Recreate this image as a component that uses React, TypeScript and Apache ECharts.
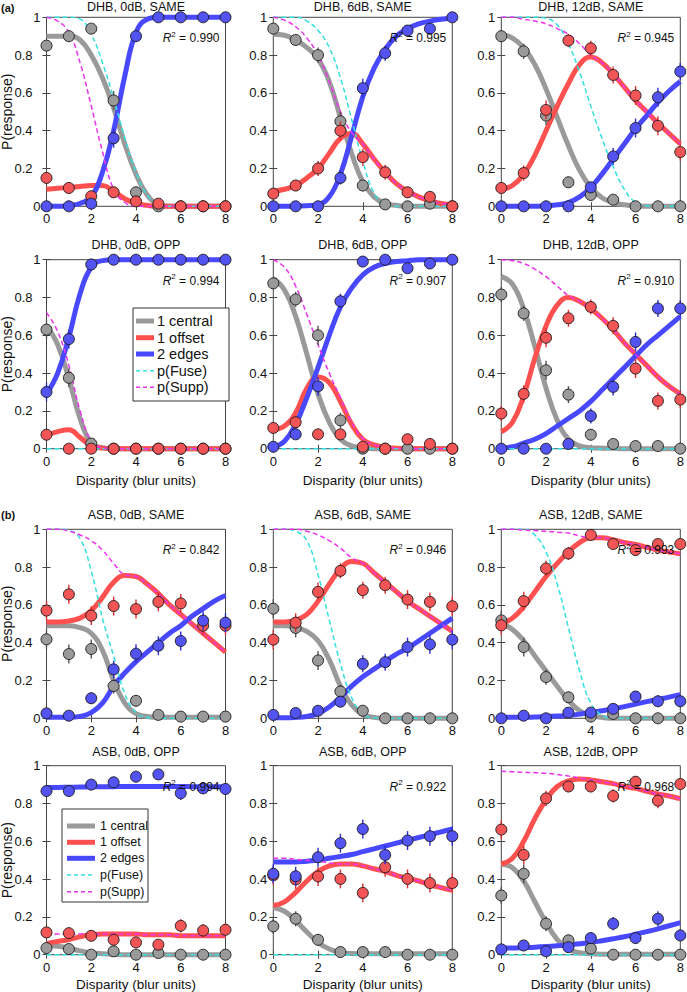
import React, { useEffect, useRef } from 'react';
import * as echarts from 'echarts';

const XS = [0, 1, 2, 3, 4, 5, 6, 7, 8];
const XF = [0, 0.5, 1, 1.5, 2, 2.5, 3, 3.5, 4, 4.5, 5, 5.5, 6, 6.5, 7, 7.5, 8];
const yTicks = ['0', '0.2', '0.4', '0.6', '0.8', '1'];
const xTicks = ['0', '2', '4', '6', '8'];

const titles = ['DHB, 0dB, SAME', 'DHB, 6dB, SAME', 'DHB, 12dB, SAME', 'DHB, 0dB, OPP', 'DHB, 6dB, OPP', 'DHB, 12dB, OPP',
  'ASB, 0dB, SAME', 'ASB, 6dB, SAME', 'ASB, 12dB, SAME', 'ASB, 0dB, OPP', 'ASB, 6dB, OPP', 'ASB, 12dB, OPP'];
const r2 = ['0.990', '0.995', '0.945', '0.994', '0.907', '0.910', '0.842', '0.946', '0.993', '0.994', '0.922', '0.968'];
const legendNames = ['1 central', '1 offset', '2 edges', 'p(Fuse)', 'p(Supp)'];

const ptsCentral = [
  [0.85, 0.90, 0.94, 0.56, 0.074, 0, 0, 0, 0],
  [0.94, 0.88, 0.80, 0.45, 0.11, 0.01, 0, 0.014, 0],
  [0.90, 0.82, 0.48, 0.127, 0.06, 0.035, 0, 0, 0],
  [0.63, 0.375, 0.027, 0, 0, 0, 0, 0, 0],
  [0.875, 0.79, 0.60, 0.15, 0, 0, 0, 0, 0],
  [0.816, 0.716, 0.415, 0.286, 0.074, 0.025, 0.014, 0.014, 0],
  [0.418, 0.34, 0.367, 0.171, 0.093, 0.018, 0.009, 0.009, 0.009],
  [0.58, 0.478, 0.306, 0.142, 0.04, 0, 0, 0, 0],
  [0.518, 0.377, 0.218, 0.111, 0.009, 0.023, 0, 0, 0],
  [0.035, 0.03, 0, 0.018, 0, 0.009, 0, 0, 0],
  [0.15, 0.19, 0.079, 0.014, 0.014, 0.014, 0, 0, 0],
  [0.313, 0.428, 0.164, 0.076, 0.032, 0, 0, 0, 0],
];
const ptsOffset = [
  [0.15, 0.097, 0.053, 0.074, 0.026, 0.014, 0, 0, 0],
  [0.067, 0.11, 0.20, 0.40, 0.26, 0.18, 0.074, 0.05, 0],
  [0.097, 0.176, 0.51, 0.877, 0.836, 0.695, 0.586, 0.426, 0.287],
  [0.074, 0, 0, 0, 0, 0, 0, 0, 0],
  [0.11, 0.14, 0.076, 0.076, 0.01, 0, 0.05, 0.025, 0],
  [0.186, 0.29, 0.587, 0.69, 0.75, 0.65, 0.424, 0.253, 0.26],
  [0.57, 0.656, 0.543, 0.594, 0.578, 0.616, 0.608, 0.49, 0.49],
  [0.416, 0.506, 0.669, 0.78, 0.678, 0.704, 0.628, 0.616, 0.593],
  [0.492, 0.62, 0.793, 0.872, 0.97, 0.922, 0.89, 0.922, 0.922],
  [0.118, 0.114, 0.1, 0.079, 0.065, 0.053, 0.153, 0.128, 0.132],
  [0.42, 0.398, 0.414, 0.401, 0.327, 0.463, 0.401, 0.379, 0.379],
  [0.662, 0.528, 0.827, 0.89, 0.89, 0.84, 0.915, 0.815, 0.903],
];
const ptsEdges = [
  [0, 0, 0.014, 0.36, 0.90, 1, 1, 1, 1],
  [0, 0, 0, 0.15, 0.625, 0.81, 0.93, 0.94, 1],
  [0, 0, 0, 0, 0.10, 0.264, 0.414, 0.577, 0.713],
  [0.30, 0.58, 0.975, 1, 1, 1, 1, 1, 1],
  [0.01, 0.076, 0.33, 0.78, 0.99, 1, 0.955, 0.98, 1],
  [0, 0, 0, 0.025, 0.173, 0.327, 0.565, 0.742, 0.742],
  [0.026, 0.014, 0.106, 0.259, 0.342, 0.384, 0.409, 0.517, 0.506],
  [0.018, 0.028, 0.04, 0.088, 0.288, 0.297, 0.377, 0.391, 0.416],
  [0, 0.014, 0, 0.03, 0.03, 0.05, 0.115, 0.09, 0.09],
  [0.866, 0.866, 0.90, 0.912, 0.942, 0.954, 0.854, 0.88, 0.877],
  [0.428, 0.415, 0.516, 0.59, 0.665, 0.528, 0.604, 0.627, 0.627],
  [0.028, 0.049, 0.018, 0.04, 0.088, 0.164, 0.088, 0.19, 0.102],
];

const errCentral = [
  [0.03, 0.03, 0.02, 0.05, 0.03, 0, 0, 0, 0],
  [0.02, 0.03, 0.04, 0.05, 0.03, 0.01, 0, 0.01, 0],
  [0.03, 0.04, 0.05, 0.03, 0.02, 0.02, 0, 0, 0],
  [0.05, 0.05, 0.02, 0, 0, 0, 0, 0, 0],
  [0.03, 0.04, 0.05, 0.04, 0, 0, 0, 0, 0],
  [0.04, 0.04, 0.05, 0.045, 0.03, 0.02, 0.01, 0.01, 0],
  [0.05, 0.05, 0.05, 0.04, 0.03, 0.01, 0.01, 0.01, 0.01],
  [0.05, 0.05, 0.05, 0.035, 0.02, 0, 0, 0, 0],
  [0.05, 0.05, 0.04, 0.03, 0.01, 0.015, 0, 0, 0],
  [0.02, 0.02, 0, 0.015, 0, 0.01, 0, 0, 0],
  [0.04, 0.04, 0.03, 0.01, 0.01, 0.01, 0, 0, 0],
  [0.045, 0.05, 0.04, 0.03, 0.02, 0, 0, 0, 0],
];
const errOffset = [
  [0.03, 0.03, 0.02, 0.03, 0.015, 0.01, 0, 0, 0],
  [0.02, 0.03, 0.04, 0.05, 0.045, 0.04, 0.03, 0.02, 0],
  [0.03, 0.04, 0.05, 0.035, 0.04, 0.045, 0.05, 0.05, 0.045],
  [0.03, 0, 0, 0, 0, 0, 0, 0, 0],
  [0.03, 0.035, 0.03, 0.03, 0.01, 0, 0.02, 0.015, 0],
  [0.04, 0.045, 0.05, 0.045, 0.04, 0.045, 0.05, 0.045, 0.045],
  [0.05, 0.05, 0.05, 0.05, 0.05, 0.05, 0.05, 0.05, 0.05],
  [0.05, 0.05, 0.05, 0.04, 0.045, 0.045, 0.05, 0.05, 0.05],
  [0.05, 0.05, 0.04, 0.035, 0.015, 0.025, 0.03, 0.025, 0.025],
  [0.03, 0.03, 0.03, 0.03, 0.025, 0.025, 0.035, 0.035, 0.035],
  [0.05, 0.05, 0.05, 0.05, 0.05, 0.05, 0.05, 0.05, 0.05],
  [0.05, 0.05, 0.04, 0.03, 0.03, 0.035, 0.03, 0.04, 0.03],
];
const errEdges = [
  [0, 0, 0.01, 0.05, 0.03, 0, 0, 0, 0],
  [0, 0, 0, 0.035, 0.05, 0.04, 0.025, 0.02, 0],
  [0, 0, 0, 0, 0.03, 0.045, 0.05, 0.05, 0.045],
  [0.05, 0.05, 0.01, 0, 0, 0, 0, 0, 0],
  [0.01, 0.025, 0.05, 0.04, 0.01, 0, 0.02, 0.01, 0],
  [0, 0, 0, 0.015, 0.04, 0.045, 0.05, 0.045, 0.045],
  [0.015, 0.01, 0.03, 0.045, 0.05, 0.05, 0.05, 0.05, 0.05],
  [0.01, 0.015, 0.02, 0.03, 0.045, 0.045, 0.05, 0.05, 0.05],
  [0, 0.01, 0, 0.015, 0.015, 0.02, 0.03, 0.03, 0.03],
  [0.03, 0.03, 0.03, 0.03, 0.025, 0.02, 0.035, 0.03, 0.03],
  [0.05, 0.05, 0.05, 0.05, 0.05, 0.05, 0.05, 0.05, 0.05],
  [0.015, 0.02, 0.015, 0.02, 0.03, 0.035, 0.03, 0.04, 0.03],
];

const fitCentral = [
  [0.90, 0.90, 0.90, 0.88, 0.80, 0.68, 0.52, 0.33, 0.17, 0.06, 0.01, 0, 0, 0, 0, 0, 0],
  [0.91, 0.905, 0.88, 0.84, 0.78, 0.66, 0.47, 0.28, 0.13, 0.05, 0.015, 0.005, 0, 0, 0, 0, 0],
  [0.91, 0.89, 0.84, 0.75, 0.62, 0.47, 0.32, 0.19, 0.10, 0.045, 0.02, 0.008, 0.003, 0, 0, 0, 0],
  [0.65, 0.55, 0.37, 0.16, 0.03, 0.005, 0, 0, 0, 0, 0, 0, 0, 0, 0, 0, 0],
  [0.9, 0.84, 0.70, 0.5, 0.29, 0.14, 0.05, 0.015, 0.005, 0, 0, 0, 0, 0, 0, 0, 0],
  [0.91, 0.87, 0.74, 0.54, 0.32, 0.15, 0.05, 0.015, 0.005, 0.003, 0.002, 0, 0, 0, 0, 0, 0],
  [0.49, 0.49, 0.49, 0.48, 0.45, 0.36, 0.2, 0.08, 0.025, 0.01, 0.005, 0.005, 0.005, 0.005, 0.005, 0.005, 0.005],
  [0.49, 0.49, 0.48, 0.46, 0.41, 0.31, 0.17, 0.07, 0.02, 0.005, 0, 0, 0, 0, 0, 0, 0],
  [0.5, 0.47, 0.41, 0.33, 0.25, 0.17, 0.095, 0.04, 0.015, 0.005, 0, 0, 0, 0, 0, 0, 0],
  [0.05, 0.045, 0.035, 0.02, 0.01, 0.005, 0.002, 0, 0, 0, 0, 0, 0, 0, 0, 0, 0],
  [0.25, 0.23, 0.18, 0.12, 0.065, 0.03, 0.012, 0.006, 0.005, 0.005, 0.005, 0.005, 0.005, 0.005, 0.005, 0.005, 0.005],
  [0.48, 0.46, 0.39, 0.28, 0.17, 0.08, 0.03, 0.01, 0.005, 0.003, 0.003, 0.003, 0.003, 0.003, 0.003, 0.003, 0.003],
];
const fitOffset = [
  [0.09, 0.095, 0.10, 0.105, 0.11, 0.11, 0.08, 0.04, 0.015, 0.005, 0, 0, 0, 0, 0, 0, 0],
  [0.08, 0.09, 0.11, 0.15, 0.20, 0.28, 0.36, 0.385, 0.33, 0.25, 0.18, 0.12, 0.08, 0.05, 0.03, 0.015, 0.01],
  [0.09, 0.11, 0.17, 0.27, 0.40, 0.53, 0.65, 0.75, 0.79, 0.76, 0.70, 0.63, 0.56, 0.50, 0.44, 0.385, 0.33],
  [0.07, 0.09, 0.10, 0.06, 0.015, 0.003, 0, 0, 0, 0, 0, 0, 0, 0, 0, 0, 0],
  [0.1, 0.12, 0.19, 0.32, 0.38, 0.35, 0.25, 0.13, 0.05, 0.02, 0.008, 0.003, 0, 0, 0, 0, 0],
  [0.09, 0.14, 0.28, 0.48, 0.65, 0.76, 0.80, 0.78, 0.74, 0.69, 0.63, 0.56, 0.5, 0.44, 0.38, 0.33, 0.29],
  [0.51, 0.51, 0.515, 0.53, 0.57, 0.64, 0.72, 0.755, 0.75, 0.71, 0.66, 0.6, 0.55, 0.5, 0.45, 0.4, 0.35],
  [0.51, 0.51, 0.52, 0.55, 0.62, 0.71, 0.79, 0.83, 0.82, 0.77, 0.72, 0.67, 0.62, 0.58, 0.54, 0.5, 0.46],
  [0.5, 0.53, 0.59, 0.67, 0.75, 0.82, 0.88, 0.93, 0.955, 0.955, 0.945, 0.93, 0.92, 0.905, 0.89, 0.88, 0.87],
  [0.06, 0.07, 0.08, 0.095, 0.105, 0.11, 0.11, 0.11, 0.11, 0.105, 0.105, 0.105, 0.1, 0.1, 0.1, 0.1, 0.1],
  [0.26, 0.28, 0.33, 0.39, 0.44, 0.47, 0.48, 0.48, 0.47, 0.455, 0.44, 0.42, 0.405, 0.39, 0.37, 0.355, 0.34],
  [0.48, 0.51, 0.6, 0.72, 0.82, 0.89, 0.92, 0.93, 0.925, 0.915, 0.905, 0.89, 0.88, 0.865, 0.85, 0.84, 0.825],
];
const fitEdges = [
  [0, 0, 0.005, 0.015, 0.05, 0.18, 0.40, 0.69, 0.92, 0.99, 1, 1, 1, 1, 1, 1, 1],
  [0, 0, 0, 0.003, 0.01, 0.05, 0.17, 0.37, 0.58, 0.73, 0.83, 0.9, 0.94, 0.965, 0.98, 0.99, 0.995],
  [0, 0, 0, 0, 0.003, 0.008, 0.02, 0.05, 0.1, 0.17, 0.25, 0.33, 0.41, 0.48, 0.55, 0.61, 0.66],
  [0.29, 0.40, 0.59, 0.82, 0.96, 0.995, 1, 1, 1, 1, 1, 1, 1, 1, 1, 1, 1],
  [0.01, 0.04, 0.13, 0.27, 0.43, 0.6, 0.75, 0.85, 0.92, 0.96, 0.98, 0.99, 0.995, 1, 1, 1, 1],
  [0.005, 0.01, 0.03, 0.05, 0.08, 0.12, 0.16, 0.2, 0.25, 0.31, 0.37, 0.43, 0.49, 0.55, 0.6, 0.65, 0.7],
  [0.005, 0.005, 0.005, 0.01, 0.03, 0.08, 0.17, 0.24, 0.3, 0.35, 0.4, 0.45, 0.49, 0.54, 0.58, 0.62, 0.65],
  [0.003, 0.003, 0.005, 0.01, 0.025, 0.06, 0.11, 0.17, 0.22, 0.26, 0.3, 0.34, 0.37, 0.41, 0.45, 0.49, 0.53],
  [0.005, 0.005, 0.005, 0.007, 0.01, 0.012, 0.015, 0.022, 0.03, 0.04, 0.05, 0.062, 0.075, 0.088, 0.1, 0.112, 0.125],
  [0.885, 0.885, 0.886, 0.887, 0.888, 0.889, 0.889, 0.89, 0.89, 0.89, 0.89, 0.89, 0.89, 0.889, 0.889, 0.888, 0.888],
  [0.49, 0.49, 0.49, 0.495, 0.5, 0.51, 0.52, 0.53, 0.545, 0.56, 0.575, 0.59, 0.605, 0.62, 0.635, 0.65, 0.665],
  [0.035, 0.036, 0.038, 0.04, 0.043, 0.047, 0.052, 0.058, 0.065, 0.074, 0.084, 0.095, 0.108, 0.122, 0.137, 0.153, 0.17],
];
const fitFuse = [
  [1, 1, 1, 0.99, 0.91, 0.76, 0.57, 0.36, 0.18, 0.06, 0.01, 0, 0, 0, 0, 0, 0],
  [1, 1, 1, 0.98, 0.93, 0.84, 0.68, 0.46, 0.24, 0.07, 0.01, 0, 0, 0, 0, 0, 0],
  [1, 1, 1, 1, 0.995, 0.96, 0.86, 0.71, 0.53, 0.36, 0.21, 0.09, 0.02, 0.003, 0, 0, 0],
  [0, 0, 0, 0, 0, 0, 0, 0, 0, 0, 0, 0, 0, 0, 0, 0, 0],
  [0, 0, 0, 0, 0, 0, 0, 0, 0, 0, 0, 0, 0, 0, 0, 0, 0],
  [0, 0, 0, 0, 0, 0, 0, 0, 0, 0, 0, 0, 0, 0, 0, 0, 0],
  [1, 1, 0.995, 0.95, 0.78, 0.53, 0.33, 0.13, 0.03, 0.005, 0, 0, 0, 0, 0, 0, 0],
  [1, 1, 0.99, 0.94, 0.76, 0.52, 0.29, 0.11, 0.025, 0.003, 0, 0, 0, 0, 0, 0, 0],
  [1, 1, 1, 0.97, 0.88, 0.71, 0.48, 0.25, 0.08, 0.015, 0, 0, 0, 0, 0, 0, 0],
  [0, 0, 0, 0, 0, 0, 0, 0, 0, 0, 0, 0, 0, 0, 0, 0, 0],
  [0, 0, 0, 0, 0, 0, 0, 0, 0, 0, 0, 0, 0, 0, 0, 0, 0],
  [0, 0, 0, 0, 0, 0, 0, 0, 0, 0, 0, 0, 0, 0, 0, 0, 0],
];
const fitSupp = [
  [1, 0.98, 0.92, 0.76, 0.53, 0.29, 0.09, 0.02, 0, 0, 0, 0, 0, 0, 0, 0, 0],
  [1, 0.985, 0.95, 0.89, 0.80, 0.66, 0.50, 0.39, 0.33, 0.25, 0.18, 0.12, 0.08, 0.05, 0.03, 0.015, 0.01],
  [1, 1, 0.99, 0.98, 0.965, 0.94, 0.91, 0.86, 0.8, 0.76, 0.70, 0.63, 0.56, 0.50, 0.44, 0.385, 0.33],
  [0.72, 0.62, 0.44, 0.2, 0.04, 0.005, 0, 0, 0, 0, 0, 0, 0, 0, 0, 0, 0],
  [1, 0.96, 0.86, 0.71, 0.55, 0.40, 0.27, 0.14, 0.055, 0.02, 0.008, 0.003, 0, 0, 0, 0, 0],
  [1, 0.995, 0.98, 0.95, 0.91, 0.86, 0.81, 0.78, 0.74, 0.69, 0.63, 0.56, 0.5, 0.44, 0.38, 0.33, 0.29],
  [1, 1, 0.99, 0.97, 0.94, 0.89, 0.82, 0.76, 0.75, 0.71, 0.66, 0.6, 0.55, 0.5, 0.45, 0.4, 0.35],
  [1, 1, 1, 0.99, 0.97, 0.94, 0.9, 0.85, 0.82, 0.77, 0.72, 0.67, 0.62, 0.58, 0.54, 0.5, 0.46],
  [1, 1, 0.995, 0.993, 0.99, 0.985, 0.98, 0.965, 0.955, 0.955, 0.945, 0.93, 0.92, 0.905, 0.89, 0.88, 0.87],
  [0.11, 0.11, 0.11, 0.11, 0.11, 0.11, 0.11, 0.11, 0.11, 0.105, 0.105, 0.105, 0.1, 0.1, 0.1, 0.1, 0.1],
  [0.51, 0.51, 0.505, 0.5, 0.495, 0.485, 0.48, 0.48, 0.47, 0.455, 0.44, 0.42, 0.405, 0.39, 0.37, 0.355, 0.34],
  [0.97, 0.968, 0.965, 0.963, 0.96, 0.953, 0.945, 0.935, 0.925, 0.915, 0.905, 0.89, 0.88, 0.865, 0.85, 0.84, 0.825],
];

const FONT = "'Liberation Sans', Arial, Helvetica, sans-serif";
const GRID_LEFT = [46.5, 273.3, 501.3];
const GRID_TOP = [17.3, 259.7, 529.3, 765.7];
const GW = 179;
const GH = 189;
const TITLE_Y = [7, 245, 515, 752];
const LINE_COL = ['#9a9a9a', '#ff5050', '#4848ff', '#33e0e0', '#ee33ee'];
const PT_COL = ['#9a9a9a', '#f25555', '#5353f2'];
const ERR_COL = ['#555555', '#e02c2c', '#2c2cd8'];

function buildOption() {
  const grids: any[] = [];
  const xAxes: any[] = [];
  const yAxes: any[] = [];
  const series: any[] = [];
  const graphics: any[] = [];
  const tickStyle = { show: true, inside: true, length: 4, lineStyle: { color: '#444', width: 1 } };

  for (let i = 0; i < 12; i++) {
    const r = Math.floor(i / 3);
    const c = i % 3;
    const left = GRID_LEFT[c];
    const top = GRID_TOP[r];
    grids.push({ left, top, width: GW, height: GH, show: true, borderColor: '#444', borderWidth: 1, backgroundColor: 'transparent' });
    const xBase = { type: 'value', gridIndex: i, min: 0, max: 8, interval: 2, splitLine: { show: false }, axisLine: { show: false }, axisTick: tickStyle };
    xAxes.push({ ...xBase, position: 'bottom', axisLabel: { fontSize: 13, fontFamily: FONT, color: '#111', margin: 6, formatter: (v: number) => xTicks[Math.round(v / 2)] } });
    xAxes.push({ ...xBase, position: 'top', axisLabel: { show: false } });
    const yBase = { type: 'value', gridIndex: i, min: 0, max: 1, interval: 0.2, splitLine: { show: false }, axisLine: { show: false }, axisTick: tickStyle };
    yAxes.push({
      ...yBase, position: 'left',
      axisLabel: {
        fontSize: 13, fontFamily: FONT, color: '#111', margin: 6,
        formatter: (v: number) => {
          const t = yTicks[Math.round(v * 5)];
          return c === 0 && t.length > 1 ? '{p|' + t + '}' : t;
        },
        rich: { p: { fontSize: 13, fontFamily: FONT, color: '#111', padding: [0, 8, 0, 0] } },
      },
    });
    yAxes.push({ ...yBase, position: 'right', axisLabel: { show: false } });

    const fits = [fitCentral, fitOffset, fitEdges, fitFuse, fitSupp];
    fits.forEach((arr, k) => {
      const dashed = k >= 3;
      series.push({
        type: 'line', xAxisIndex: 2 * i, yAxisIndex: 2 * i, silent: true,
        data: XF.map((x, j) => [x, arr[i][j]]),
        smooth: 0.45, showSymbol: false, symbol: 'none', clip: false,
        lineStyle: { color: LINE_COL[k], width: dashed ? 1.5 : 5, type: dashed ? [5, 3] : 'solid' },
        z: dashed ? 3 : 2,
      });
    });

    const pts = [ptsCentral, ptsOffset, ptsEdges];
    const errs = [errCentral, errOffset, errEdges];
    pts.forEach((arr, k) => {
      const col = ERR_COL[k];
      series.push({
        type: 'custom', xAxisIndex: 2 * i, yAxisIndex: 2 * i, silent: true, clip: false,
        encode: { x: 0, y: [1, 2] },
        data: XS.map((x, j) => [x, arr[i][j] - errs[k][i][j], arr[i][j] + errs[k][i][j], errs[k][i][j]]).filter((d) => d[3] > 0),
        renderItem: (params: any, api: any) => {
          const x = api.value(0);
          const p1 = api.coord([x, api.value(1)]);
          const p2 = api.coord([x, api.value(2)]);
          return { type: 'line', shape: { x1: p1[0], y1: p1[1], x2: p2[0], y2: p2[1] }, style: { stroke: col, lineWidth: 1.4 } };
        },
        z: 4 + 2 * k,
      });
      series.push({
        type: 'scatter', xAxisIndex: 2 * i, yAxisIndex: 2 * i, silent: true, clip: false,
        data: XS.map((x, j) => [x, arr[i][j]]),
        symbol: 'circle', symbolSize: 11,
        itemStyle: { color: PT_COL[k], borderColor: '#1a1a1a', borderWidth: 0.9, opacity: 1 },
        z: 5 + 2 * k,
      });
    });

    graphics.push({
      type: 'text', x: left + GW / 2, y: TITLE_Y[r], z: 50,
      style: { text: titles[i], fontSize: 12.5, fontFamily: FONT, fill: '#111', align: 'center', verticalAlign: 'middle', textAlign: 'center', textVerticalAlign: 'middle' },
    });
    graphics.push({
      type: 'text', x: left + GW - 6, y: top + 20, z: 50,
      style: {
        text: '{i|R}{s|2}{n| = ' + r2[i] + '}', align: 'right', verticalAlign: 'middle', textAlign: 'right', textVerticalAlign: 'middle',
        fontSize: 12, fontFamily: FONT, fill: '#111',
        rich: {
          i: { fontSize: 12, fontStyle: 'italic', fontFamily: FONT, fill: '#111', lineHeight: 14, verticalAlign: 'bottom' },
          s: { fontSize: 8, fontFamily: FONT, fill: '#111', lineHeight: 14, verticalAlign: 'top' },
          n: { fontSize: 12, fontFamily: FONT, fill: '#111', lineHeight: 14, verticalAlign: 'bottom' },
        },
      },
    });
    if (c === 0) {
      graphics.push({
        type: 'text', x: 7, y: top + GH / 2, rotation: Math.PI / 2, z: 50,
        style: { text: 'P(response)', fontSize: 14, fontFamily: FONT, fill: '#111', align: 'center', verticalAlign: 'middle', textAlign: 'center', textVerticalAlign: 'middle' },
      });
    }
    if (r === 1 || r === 3) {
      graphics.push({
        type: 'text', x: left + GW / 2, y: r === 1 ? 480.5 : 984, z: 50,
        style: { text: 'Disparity (blur units)', fontSize: 13.5, fontFamily: FONT, fill: '#111', align: 'center', verticalAlign: 'middle', textAlign: 'center', textVerticalAlign: 'middle' },
      });
    }
  }

  graphics.push({ type: 'text', x: 1, y: 8, z: 50, style: { text: '(a)', fontSize: 11, fontWeight: 'bold', fontFamily: FONT, fill: '#111', verticalAlign: 'middle', textVerticalAlign: 'middle' } });
  graphics.push({ type: 'text', x: 1, y: 515, z: 50, style: { text: '(b)', fontSize: 11, fontWeight: 'bold', fontFamily: FONT, fill: '#111', verticalAlign: 'middle', textVerticalAlign: 'middle' } });

  const addLegend = (bx: number, by: number, bw: number, bh: number, rows: number[], l1: number, l2: number, tx: number, fs: number) => {
    graphics.push({ type: 'rect', z: 60, shape: { x: bx, y: by, width: bw, height: bh }, style: { fill: '#fff', stroke: '#333', lineWidth: 1 } });
    legendNames.forEach((name, k) => {
      const dashed = k >= 3;
      graphics.push({
        type: 'line', z: 61, shape: { x1: l1, y1: rows[k], x2: l2, y2: rows[k] },
        style: { stroke: LINE_COL[k], lineWidth: dashed ? 1.5 : 5, lineDash: dashed ? [4, 3] : null },
      });
      graphics.push({
        type: 'text', x: tx, y: rows[k], z: 61,
        style: { text: name, fontSize: fs, fontFamily: FONT, fill: '#111', verticalAlign: 'middle', textVerticalAlign: 'middle' },
      });
    });
  };
  addLegend(133, 308, 96, 93, [321, 337.7, 354, 370.7, 387.3], 136, 154, 157, 14.5);
  addLegend(62, 809, 86, 93, [826, 842.3, 858.3, 875, 891.7], 67, 95, 100, 12.5);

  return {
    animation: false,
    backgroundColor: '#ffffff',
    textStyle: { fontFamily: FONT },
    grid: grids,
    xAxis: xAxes,
    yAxis: yAxes,
    series,
    graphic: { elements: graphics },
  };
}

export default function App() {
  const ref = useRef<HTMLDivElement>(null);
  useEffect(() => {
    if (!ref.current) return;
    const chart = echarts.init(ref.current, undefined, { renderer: 'svg' });
    chart.setOption(buildOption() as any);
    return () => chart.dispose();
  }, []);
  return <div ref={ref} style={{ position: 'fixed', left: 0, top: 0, width: 687, height: 992, background: '#fff' }} />;
}
